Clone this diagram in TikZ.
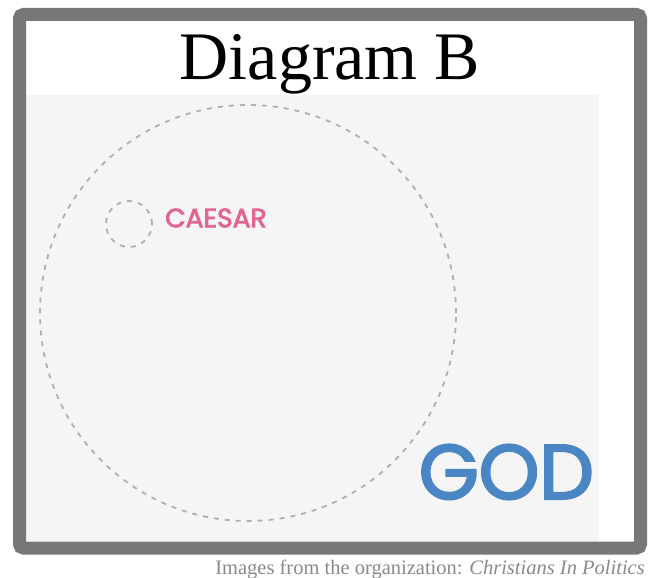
\documentclass[tikz,border=0pt]{standalone}
\usepackage{fontspec}
\setmainfont{Liberation Serif}
\newfontfamily\labelfont{Poppins}[RawFeature={embolden=3}]
\usepackage{tikz}

\definecolor{framegray}{HTML}{777777}
\definecolor{panelgray}{HTML}{F5F5F5}
\definecolor{ringgray}{HTML}{B0B0B0}
\definecolor{caesarpink}{HTML}{E2668E}
\definecolor{godblue}{HTML}{4A86C4}
\definecolor{notegray}{HTML}{8A8A8A}

\tikzset{
  ring/.style={circle, draw=ringgray, line width=1.8pt, dash pattern=on 5pt off 6pt, inner sep=0pt},
}

\begin{document}
\begin{tikzpicture}[x=1pt, y=-1pt]
  \useasboundingbox (0,0) rectangle (651,578);
  \fill[white] (0,0) rectangle (651,578);
  \fill[panelgray] (26,95) rectangle (599,541);
  \draw[framegray, line width=13pt, rounded corners=4pt] (19.5,14.5) rectangle (640.5,548);

  \node[anchor=base, font=\fontsize{68}{68}\selectfont] (title) at (330,80) {Diagram B};

  \node[ring, minimum size=416pt] (godring) at (248,313) {};
  \node[ring, minimum size=46pt] (caesarring) at (129,224) {};

  \node[anchor=west, inner sep=0pt, text=caesarpink, font=\labelfont\fontsize{26.5}{26.5}\selectfont] (caesar) at (165,218) {CAESAR};
  \node[anchor=east, inner sep=0pt, text=godblue, font=\labelfont\fontsize{77}{77}\selectfont] (god) at (594,472) {GOD};

  \node[anchor=base east, inner sep=0pt, text=notegray, font=\fontsize{20.5}{20.5}\selectfont] (note) at (645,574) {Images from the organization: \textit{Christians In Politics}};
\end{tikzpicture}
\end{document}
